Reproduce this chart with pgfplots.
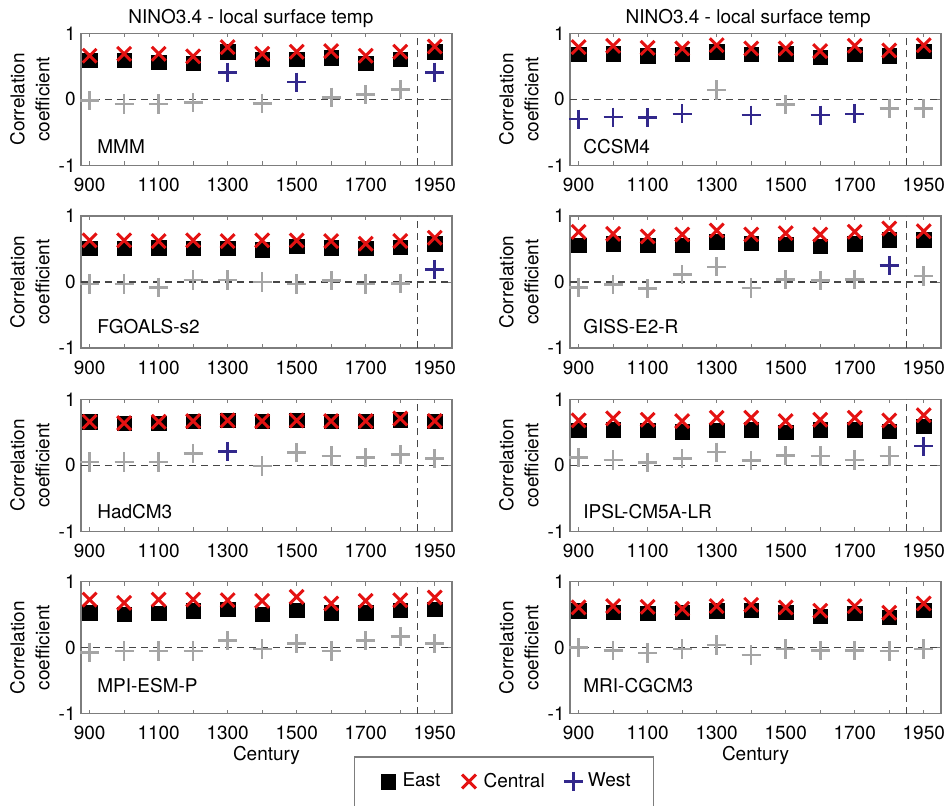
\documentclass[border=0pt]{standalone}
\usepackage{fontspec}
\setmainfont{TeX Gyre Heros}
\usepackage{pgfplots}
\pgfplotsset{compat=1.18}
\definecolor{cred}{RGB}{228,18,18}
\definecolor{cblue}{RGB}{50,40,140}
\definecolor{cgray}{RGB}{165,165,165}
\definecolor{cframe}{RGB}{125,125,125}
\definecolor{cdash}{RGB}{70,70,70}
\tikzset{plabel/.style={anchor=base west, inner sep=0pt, font=\fontsize{9.5}{12.5}\selectfont}}
\pgfplotsset{
  emark/.style={only marks, mark=square*, mark size=3.6pt, mark options={fill=black, draw=black, line width=0.2pt}},
  cmark/.style={only marks, mark=x, mark size=4.9pt, color=cred, mark options={line width=1.5pt}},
  wmark/.style={only marks, mark=+, mark size=4.8pt, color=cblue, mark options={line width=1.3pt}},
  gmark/.style={only marks, mark=+, mark size=4.8pt, color=cgray, mark options={line width=1.3pt}},
  dline/.style={cdash, line width=0.6pt, dash pattern=on 3.5pt off 2.5pt, forget plot},
  every axis title shift=0pt,
  panel/.style={
    scale only axis, width=185.5pt, height=66pt, anchor=north west,
    xmin=875, xmax=1950, ymin=-1, ymax=1,
    xtick={900,1000,1100,1200,1300,1400,1500,1600,1700,1800,1900},
    xticklabels={900,,1100,,1300,,1500,,1700,,1950},
    ytick={-1,0,1}, yticklabels={-1,0,1},
    tick align=inside, major tick length=2pt,
    axis line style={cframe, line width=0.6pt},
    tick style={cframe, line width=0.5pt},
    font=\fontsize{9.5}{12.5}\selectfont,
    xticklabel style={anchor=base, yshift=-13pt, inner sep=0pt},
    yticklabel style={anchor=east, inner sep=0pt, xshift=-2.5pt},
    ylabel={Correlation\\coefficient},
    ylabel style={at={(axis description cs:-0.1375,0.5)}, anchor=center, align=center},
    clip=false,
  },
  toprow/.style={title={NINO3.4 - local surface temp},
    title style={at={(axis description cs:#1,1)}, anchor=base, yshift=4.9pt, inner sep=0pt}},
  botrow/.style={xlabel={Century},
    xlabel style={at={(axis description cs:0.5,0)}, anchor=base, yshift=-23.3pt, inner sep=0pt}},
  legend image code/.code={\path (0pt,0pt) (12pt,0pt); \draw[#1] plot coordinates {(7pt,0pt)};},
}
\begin{document}
\begin{tikzpicture}
% ---------------- MMM
\begin{axis}[panel, toprow=0.458, at={(40.5pt,-16.65pt)}]
\addplot[dline] coordinates {(875,0) (1950,0)};
\addplot[dline] coordinates {(1850,-1) (1850,1)};
\addplot[emark, forget plot] coordinates {(900,0.59) (1000,0.59) (1100,0.56) (1200,0.55) (1300,0.72) (1400,0.61) (1500,0.61) (1600,0.63) (1700,0.55) (1800,0.61) (1900,0.72)};
\addplot[cmark, forget plot] coordinates {(900,0.66) (1000,0.69) (1100,0.69) (1200,0.65) (1300,0.79) (1400,0.69) (1500,0.72) (1600,0.73) (1700,0.66) (1800,0.72) (1900,0.80)};
\addplot[gmark, forget plot] coordinates {(900,-0.02) (1000,-0.07) (1100,-0.07) (1200,-0.05) (1400,-0.06) (1600,0.03) (1700,0.07) (1800,0.15)};
\addplot[wmark, forget plot] coordinates {(1300,0.41) (1500,0.26) (1900,0.41)};
\node[plabel] at (axis description cs:0.043,0.089) {MMM};
\end{axis}
% ---------------- CCSM4
\begin{axis}[panel, toprow=0.480, at={(285pt,-16.65pt)}]
\addplot[dline] coordinates {(875,0) (1950,0)};
\addplot[dline] coordinates {(1850,-1) (1850,1)};
\addplot[emark, forget plot] coordinates {(900,0.68) (1000,0.69) (1100,0.66) (1200,0.68) (1300,0.72) (1400,0.68) (1500,0.69) (1600,0.64) (1700,0.68) (1800,0.66) (1900,0.73)};
\addplot[cmark, forget plot] coordinates {(900,0.79) (1000,0.81) (1100,0.78) (1200,0.77) (1300,0.82) (1400,0.77) (1500,0.77) (1600,0.73) (1700,0.81) (1800,0.74) (1900,0.82)};
\addplot[gmark, forget plot] coordinates {(1300,0.14) (1500,-0.08) (1800,-0.14) (1900,-0.14)};
\addplot[wmark, forget plot] coordinates {(900,-0.30) (1000,-0.27) (1100,-0.28) (1200,-0.22) (1400,-0.24) (1600,-0.24) (1700,-0.22)};
\node[plabel] at (axis description cs:0.035,0.089) {CCSM4};
\end{axis}
% ---------------- FGOALS-s2
\begin{axis}[panel, at={(40.5pt,-108pt)}]
\addplot[dline] coordinates {(875,0) (1950,0)};
\addplot[dline] coordinates {(1850,-1) (1850,1)};
\addplot[emark, forget plot] coordinates {(900,0.51) (1000,0.51) (1100,0.52) (1200,0.51) (1300,0.51) (1400,0.49) (1500,0.54) (1600,0.52) (1700,0.51) (1800,0.53) (1900,0.58)};
\addplot[cmark, forget plot] coordinates {(900,0.63) (1000,0.63) (1100,0.62) (1200,0.63) (1300,0.62) (1400,0.63) (1500,0.63) (1600,0.62) (1700,0.58) (1800,0.62) (1900,0.67)};
\addplot[gmark, forget plot] coordinates {(900,-0.03) (1000,-0.03) (1100,-0.08) (1200,0.03) (1300,0.03) (1400,0.00) (1500,-0.03) (1600,0.02) (1700,-0.03) (1800,-0.02)};
\addplot[wmark, forget plot] coordinates {(1900,0.19)};
\node[plabel] at (axis description cs:0.043,0.11) {FGOALS-s2};
\end{axis}
% ---------------- GISS-E2-R
\begin{axis}[panel, at={(285pt,-108pt)}]
\addplot[dline] coordinates {(875,0) (1950,0)};
\addplot[dline] coordinates {(1850,-1) (1850,1)};
\addplot[emark, forget plot] coordinates {(900,0.56) (1000,0.58) (1100,0.56) (1200,0.56) (1300,0.61) (1400,0.59) (1500,0.57) (1600,0.54) (1700,0.58) (1800,0.64) (1900,0.64)};
\addplot[cmark, forget plot] coordinates {(900,0.76) (1000,0.73) (1100,0.69) (1200,0.72) (1300,0.78) (1400,0.72) (1500,0.74) (1600,0.72) (1700,0.76) (1800,0.81) (1900,0.77)};
\addplot[gmark, forget plot] coordinates {(900,-0.08) (1000,-0.04) (1100,-0.10) (1200,0.11) (1300,0.23) (1400,-0.09) (1500,0.04) (1600,0.02) (1700,0.04) (1900,0.09)};
\addplot[wmark, forget plot] coordinates {(1800,0.25)};
\node[plabel] at (axis description cs:0.035,0.11) {GISS-E2-R};
\end{axis}
% ---------------- HadCM3
\begin{axis}[panel, at={(40.5pt,-199.65pt)}]
\addplot[dline] coordinates {(875,0) (1950,0)};
\addplot[dline] coordinates {(1850,-1) (1850,1)};
\addplot[emark, forget plot] coordinates {(900,0.66) (1000,0.64) (1100,0.64) (1200,0.67) (1300,0.68) (1400,0.67) (1500,0.68) (1600,0.67) (1700,0.67) (1800,0.69) (1900,0.67)};
\addplot[cmark, forget plot] coordinates {(900,0.66) (1000,0.64) (1100,0.66) (1200,0.67) (1300,0.68) (1400,0.67) (1500,0.68) (1600,0.67) (1700,0.67) (1800,0.71) (1900,0.67)};
\addplot[gmark, forget plot] coordinates {(900,0.05) (1000,0.05) (1100,0.05) (1200,0.18) (1400,-0.01) (1500,0.19) (1600,0.14) (1700,0.12) (1800,0.16) (1900,0.10)};
\addplot[wmark, forget plot] coordinates {(1300,0.21)};
\node[plabel] at (axis description cs:0.043,0.10) {HadCM3};
\end{axis}
% ---------------- IPSL-CM5A-LR
\begin{axis}[panel, at={(285pt,-199.65pt)}]
\addplot[dline] coordinates {(875,0) (1950,0)};
\addplot[dline] coordinates {(1850,-1) (1850,1)};
\addplot[emark, forget plot] coordinates {(900,0.53) (1000,0.54) (1100,0.53) (1200,0.51) (1300,0.53) (1400,0.54) (1500,0.50) (1600,0.54) (1700,0.54) (1800,0.52) (1900,0.59)};
\addplot[cmark, forget plot] coordinates {(900,0.68) (1000,0.71) (1100,0.69) (1200,0.67) (1300,0.72) (1400,0.72) (1500,0.67) (1600,0.69) (1700,0.72) (1800,0.68) (1900,0.76)};
\addplot[gmark, forget plot] coordinates {(900,0.12) (1000,0.08) (1100,0.04) (1200,0.10) (1300,0.20) (1400,0.07) (1500,0.15) (1600,0.14) (1700,0.08) (1800,0.14)};
\addplot[wmark, forget plot] coordinates {(1900,0.29)};
\node[plabel] at (axis description cs:0.035,0.10) {IPSL-CM5A-LR};
\end{axis}
% ---------------- MPI-ESM-P
\begin{axis}[panel, botrow, at={(40.5pt,-290.85pt)},
  legend columns=3,
  legend style={at={(axis description cs:1.14,-0.323)}, anchor=north, draw=cframe, line width=0.6pt,
    inner xsep=9.5pt, inner ysep=6pt, font=\fontsize{9.5}{12.5}\selectfont,
    /tikz/every even column/.append style={column sep=5pt}},
  legend cell align=left]
\addlegendimage{emark}\addlegendentry{East}
\addlegendimage{cmark}\addlegendentry{Central}
\addlegendimage{wmark}\addlegendentry{West}
\addplot[dline] coordinates {(875,0) (1950,0)};
\addplot[dline] coordinates {(1850,-1) (1850,1)};
\addplot[emark, forget plot] coordinates {(900,0.53) (1000,0.51) (1100,0.52) (1200,0.56) (1300,0.58) (1400,0.51) (1500,0.57) (1600,0.53) (1700,0.53) (1800,0.57) (1900,0.58)};
\addplot[cmark, forget plot] coordinates {(900,0.73) (1000,0.68) (1100,0.73) (1200,0.73) (1300,0.72) (1400,0.71) (1500,0.77) (1600,0.67) (1700,0.71) (1800,0.72) (1900,0.76)};
\addplot[gmark, forget plot] coordinates {(900,-0.07) (1000,-0.05) (1100,-0.05) (1200,-0.05) (1300,0.11) (1400,-0.02) (1500,0.06) (1600,-0.05) (1700,0.11) (1800,0.17) (1900,0.06)};
\node[plabel] at (axis description cs:0.043,0.157) {MPI-ESM-P};
\end{axis}
% ---------------- MRI-CGCM3
\begin{axis}[panel, botrow, at={(285pt,-290.85pt)}]
\addplot[dline] coordinates {(875,0) (1950,0)};
\addplot[dline] coordinates {(1850,-1) (1850,1)};
\addplot[emark, forget plot] coordinates {(900,0.56) (1000,0.54) (1100,0.52) (1200,0.54) (1300,0.56) (1400,0.57) (1500,0.54) (1600,0.48) (1700,0.52) (1800,0.46) (1900,0.57)};
\addplot[cmark, forget plot] coordinates {(900,0.61) (1000,0.63) (1100,0.62) (1200,0.59) (1300,0.63) (1400,0.65) (1500,0.61) (1600,0.56) (1700,0.63) (1800,0.53) (1900,0.67)};
\addplot[gmark, forget plot] coordinates {(900,0.00) (1000,-0.04) (1100,-0.08) (1200,-0.02) (1300,0.04) (1400,-0.11) (1500,-0.02) (1600,-0.04) (1700,-0.04) (1800,-0.05) (1900,-0.02)};
\node[plabel] at (axis description cs:0.035,0.157) {MRI-CGCM3};
\end{axis}
\pgfresetboundingbox
\path (0pt,0pt) rectangle (473pt,-402.5pt);
\end{tikzpicture}
\end{document}
